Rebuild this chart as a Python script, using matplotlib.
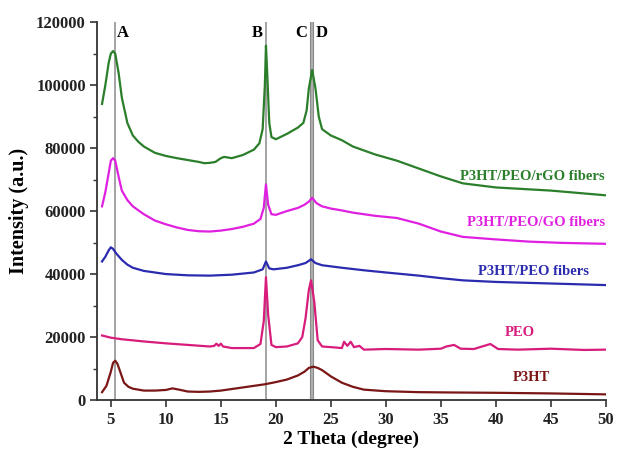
import matplotlib
matplotlib.use("Agg")
import matplotlib.pyplot as plt
from matplotlib.ticker import MultipleLocator

plt.rcParams['font.family'] = ['Liberation Serif', 'DejaVu Serif']
plt.rcParams['font.weight'] = 'bold'

# ---- data ----
rgo_x = [4.2, 4.5, 4.8, 5.0, 5.2, 5.4, 5.7, 6.0, 6.5, 7.0, 7.5, 8.0, 9.0, 10.0, 11.0, 12.0, 13.0, 13.5, 14.0,
         14.5, 15.0, 15.3, 16.0, 17.0, 18.0, 18.5, 18.8, 19.0, 19.1, 19.2, 19.4, 19.6, 20.0, 21.0, 22.0, 22.5,
         22.8, 23.0, 23.3, 23.6, 23.9, 24.2, 25.0, 26.0, 27.0, 29.0, 31.0, 33.0, 35.0, 37.0, 40.0, 45.0, 50.0]
rgo_y = [94000, 100000, 107000, 110000, 110800, 110000, 104000, 96000, 88000, 84000, 82000, 80500, 78500, 77500, 76800, 76200, 75600, 75200, 75300,
         75600, 76800, 77200, 76800, 77800, 79500, 81500, 86000, 100000, 112500, 105000, 88000, 83500, 82800, 84500, 86500, 88000,
         92000, 99000, 104800, 99000, 90000, 86000, 84000, 82500, 80500, 78000, 76000, 73500, 71000, 68800, 67500, 66500, 65000]

go_x = [4.2, 4.5, 4.8, 5.0, 5.2, 5.4, 5.7, 6.0, 6.5, 7.0, 8.0, 9.0, 10.0, 11.0, 12.0, 13.0, 14.0, 15.0, 16.0, 17.0,
        18.0, 18.6, 18.9, 19.1, 19.3, 19.6, 20.0, 21.0, 22.0, 22.6, 23.0, 23.3, 23.7, 24.2, 25.0, 26.0, 27.0, 29.0,
        31.0, 33.0, 35.0, 37.0, 40.0, 43.0, 46.0, 50.0]
go_y = [61500, 66000, 72000, 76000, 76800, 76000, 71000, 66500, 63500, 61500, 59000, 57000, 55800, 54800, 54000, 53600, 53500, 53800, 54300, 55000,
        56000, 57500, 61000, 68500, 62000, 59000, 58800, 60000, 61000, 62000, 63000, 64200, 62500, 61500, 60800, 60200, 59500, 58500,
        57800, 56000, 53500, 51800, 51000, 50300, 49900, 49600]

peo_fib_x = [4.2, 4.5, 4.8, 5.0, 5.2, 5.5, 6.0, 6.5, 7.0, 8.0, 9.0, 10.0, 12.0, 14.0, 16.0, 18.0, 18.8, 19.1, 19.4,
             19.8, 21.0, 22.0, 22.7, 23.2, 23.6, 24.2, 26.0, 28.0, 30.0, 33.0, 35.0, 37.0, 40.0, 45.0, 50.0]
peo_fib_y = [44000, 45500, 47500, 48500, 48000, 46500, 44500, 43000, 42000, 41000, 40500, 40000, 39600, 39500, 39800, 40500, 41500, 44000, 41800,
             41500, 42000, 42800, 43500, 44700, 43500, 42800, 42000, 41200, 40500, 39500, 38700, 38000, 37500, 37000, 36500]

peo_x = [4.2, 5.0, 6.0, 8.0, 10.0, 12.0, 14.0, 14.4, 14.6, 14.8, 15.0, 15.2, 16.0, 18.0, 18.6, 18.9, 19.1, 19.3, 19.6,
         20.0, 21.0, 22.0, 22.4, 22.7, 23.0, 23.2, 23.5, 23.8, 24.2, 25.0, 26.0, 26.2, 26.5, 26.8, 27.1, 27.6, 28.0, 30.0,
         33.0, 35.0, 35.5, 36.2, 36.8, 38.0, 39.5, 40.2, 42.0, 45.0, 48.0, 50.0]
peo_y = [20500, 19800, 19300, 18600, 18000, 17500, 17000, 17200, 17900, 17200, 17900, 17000, 16500, 16500, 17800, 25000, 39000, 27000, 17500,
         16800, 17000, 18000, 20000, 26000, 35000, 38000, 31000, 19000, 17000, 16800, 16500, 18500, 17200, 18500, 16800, 17200, 16000, 16200,
         16000, 16300, 17000, 17500, 16300, 16200, 17800, 16200, 16000, 16300, 15900, 16000]

p3ht_x = [4.2, 4.6, 5.0, 5.2, 5.4, 5.6, 5.9, 6.2, 6.6, 7.0, 8.0, 9.0, 10.0, 10.6, 11.2, 12.0, 13.0, 14.0, 15.0, 16.0,
          17.0, 18.0, 19.0, 20.0, 21.0, 22.0, 22.6, 23.0, 23.4, 23.8, 24.2, 25.0, 26.0, 27.0, 28.0, 30.0, 33.0, 36.0,
          40.0, 45.0, 50.0]
p3ht_y = [2500, 4500, 9000, 11800, 12500, 11500, 8500, 5500, 4200, 3600, 3000, 3000, 3200, 3700, 3300, 2700, 2600, 2700, 3000, 3500,
          4000, 4500, 5000, 5700, 6500, 7800, 9000, 10200, 10600, 10200, 9500, 7500, 5500, 4200, 3300, 2800, 2500, 2400,
          2300, 2100, 1800]

series_labels = ["P3HT/PEO/rGO fibers", "P3HT/PEO/GO fibers", "P3HT/PEO fibers", "PEO", "P3HT"]
marker_positions = [5.35, 19.1]
band = (23.08, 23.42)
marker_letters = ["A", "B", "C", "D"]

colors = ["#2b7f2b", "#e020e0", "#2b2bb0", "#d81c7c", "#7a1616"]

fig = plt.figure(figsize=(6.17, 4.51), dpi=100)
ax = fig.add_axes([0.157, 0.113, 0.825, 0.838])

ax.axvline(marker_positions[0], color="#8a8a8a", lw=1.1, zorder=1)
ax.axvline(marker_positions[1], color="#8a8a8a", lw=1.1, zorder=1)
ax.axvspan(band[0], band[1], color="#b0b0b0", lw=0, zorder=1)
ax.axvline(band[0], color="#8a8a8a", lw=0.8, zorder=1)
ax.axvline(band[1], color="#8a8a8a", lw=0.8, zorder=1)

xs = [rgo_x, go_x, peo_fib_x, peo_x, p3ht_x]
ys = [rgo_y, go_y, peo_fib_y, peo_y, p3ht_y]
for x, y, c in zip(xs, ys, colors):
    ax.plot(x, y, color=c, lw=1.6, zorder=3)

# series labels
fs = 10.5
ax.text(49.9, 71000, series_labels[0], color=colors[0], fontsize=fs, fontweight='bold', ha='right', va='center')
ax.text(49.9, 56500, series_labels[1], color=colors[1], fontsize=fs, fontweight='bold', ha='right', va='center')
ax.text(48.5, 40800, series_labels[2], color=colors[2], fontsize=fs, fontweight='bold', ha='right', va='center')
ax.text(42.2, 21300, series_labels[3], color=colors[3], fontsize=fs, fontweight='bold', ha='center', va='center')
ax.text(43.2, 7300, series_labels[4], color=colors[4], fontsize=fs, fontweight='bold', ha='center', va='center')

# marker letters
ly = 116500
ax.text(5.55, ly, marker_letters[0], fontsize=12, fontweight='bold', ha='left', va='center')
ax.text(18.85, ly, marker_letters[1], fontsize=12, fontweight='bold', ha='right', va='center')
ax.text(22.85, ly, marker_letters[2], fontsize=12, fontweight='bold', ha='right', va='center')
ax.text(23.6, ly, marker_letters[3], fontsize=12, fontweight='bold', ha='left', va='center')

ax.set_xlim(3.73, 50)
ax.set_ylim(0, 120000)
ax.xaxis.set_major_locator(MultipleLocator(5))
ax.yaxis.set_major_locator(MultipleLocator(20000))
ax.yaxis.set_minor_locator(MultipleLocator(10000))
ax.spines['top'].set_visible(False)
ax.spines['right'].set_visible(False)
for s in ['left', 'bottom']:
    ax.spines[s].set_linewidth(1.3)
    ax.spines[s].set_color("#333333")
ax.tick_params(axis='both', which='major', length=5, width=1.2, labelsize=12, color="#333333", labelcolor="#222222")
ax.tick_params(axis='y', which='major', pad=3)
ax.tick_params(axis='y', which='minor', length=3, width=1.0, color="#333333")
for lab in ax.get_xticklabels() + ax.get_yticklabels():
    lab.set_fontweight('bold')

ax.set_xlabel("2 Theta (degree)", fontsize=14, fontweight='bold', labelpad=2)
ax.set_ylabel("Intensity (a.u.)", fontsize=14.5, fontweight='bold', labelpad=5)

fig.savefig("out.png", dpi=100)
